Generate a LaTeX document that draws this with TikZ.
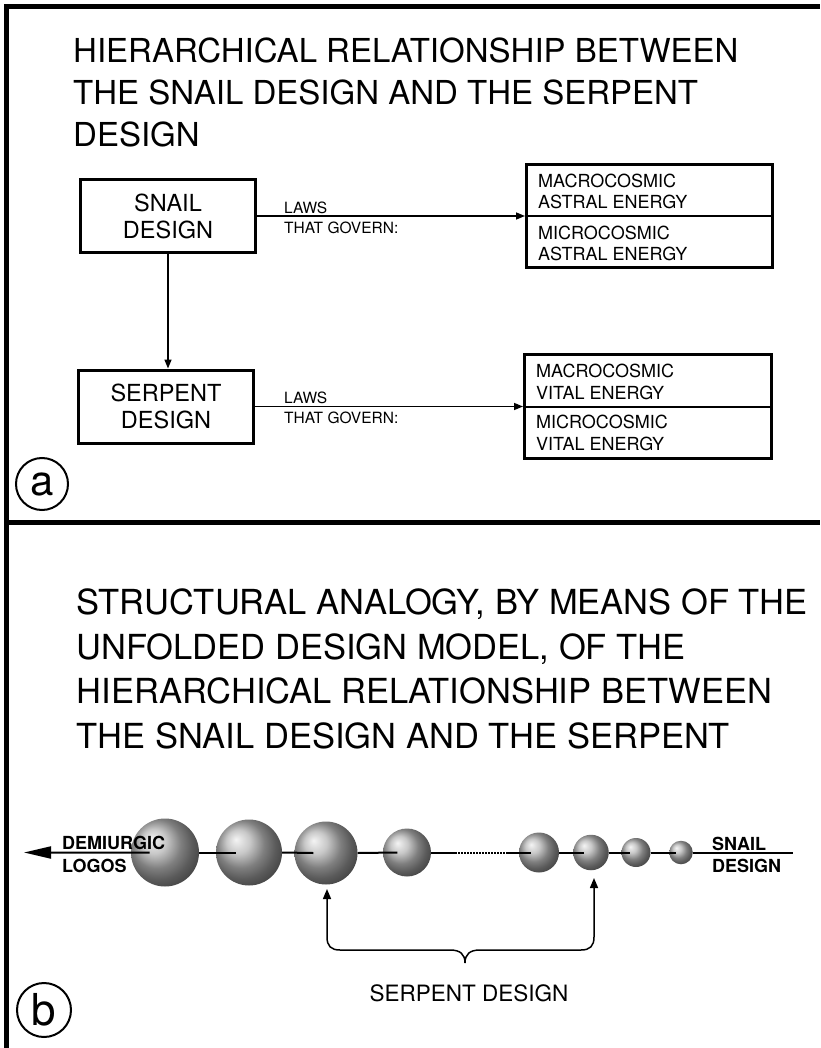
\documentclass[tikz,border=0pt]{standalone}
\usepackage{fontspec}
\setmainfont{TeX Gyre Heros}
\usetikzlibrary{arrows.meta,calc}
\begin{document}
\begin{tikzpicture}[x=1pt,y=-1pt,
  frame/.style={line width=5pt},
  dbox/.style={draw, line width=3pt, minimum width=175pt, minimum height=73pt, inner sep=0pt, align=center, font=\fontsize{23.5}{27}\selectfont},
  rbox/.style={draw, line width=3pt, inner sep=0pt},
  rtext/.style={anchor=north west, inner sep=0pt, align=left, font=\fontsize{18}{21.5}\selectfont},
  laws/.style={anchor=north west, inner sep=0pt, align=left, font=\fontsize{15.5}{20}\selectfont},
  conn/.style={line width=1.5pt, -{Triangle[length=9pt,width=7pt]}},
  sphere/.style={circle, shading=ball, ball color=gray!58, inner sep=0pt, draw=none},
  rod/.style={line width=2pt},
  title/.style={anchor=north west, inner sep=0pt, align=left},
  blab/.style={anchor=base west, inner sep=0pt, font=\bfseries\fontsize{18}{18}\selectfont},
  lbl/.style={circle, draw, line width=2pt, inner sep=0pt}
]
\fill[white] (0,0) rectangle (820,1048);
\useasboundingbox (0,0) rectangle (820,1048);

% frame
\draw[frame] (6.5,1048) -- (6.5,6.5) -- (820,6.5);
\draw[frame] (6.5,522.5) -- (820,522.5);

% ---------- panel a ----------
\node[title, font=\fontsize{33}{42}\selectfont] (t1) at (73,37.3)
  {HIERARCHICAL RELATIONSHIP BETWEEN\\THE SNAIL DESIGN AND THE SERPENT\\DESIGN};

\node[dbox] (snail) at (168,216) {SNAIL\\DESIGN};
\node[dbox] (serpent) at (166,406.5) {SERPENT\\DESIGN};

\node[rbox, minimum width=246pt, minimum height=103pt] (r1) at (649.5,216) {};
\node[rbox, minimum width=247pt, minimum height=104pt] (r2) at (648,406.5) {};
\draw[line width=2pt] (r1.west) -- (r1.east);
\draw[line width=2pt] (r2.west) -- (r2.east);

\node[rtext] (r1a) at ($(r1.west)+(13,-42.4)$) {MACROCOSMIC\\ASTRAL ENERGY};
\node[rtext] (r1b) at ($(r1.west)+(13,9.6)$) {MICROCOSMIC\\ASTRAL ENERGY};
\node[rtext] (r2a) at ($(r2.west)+(13,-42.4)$) {MACROCOSMIC\\VITAL ENERGY};
\node[rtext] (r2b) at ($(r2.west)+(13,8.6)$) {MICROCOSMIC\\VITAL ENERGY};

\draw[conn] (snail.east) -- (r1.west);
\draw[conn] (serpent.east) -- (serpent.east -| r2.west);
\draw[conn] (snail.south) -- (snail.south |- serpent.north);

\node[laws] (l1) at (284,201.5) {LAWS\\THAT GOVERN:};
\node[laws] (l2) at (284,391.5) {LAWS\\THAT GOVERN:};

\node[lbl, minimum size=52pt, font=\fontsize{42}{42}\selectfont] (la) at (42,484) {a};

% ---------- panel b ----------
\node[title, font=\fontsize{34.5}{44.5}\selectfont] (t2) at (76.5,589)
  {STRUCTURAL ANALOGY, BY MEANS OF THE\\UNFOLDED DESIGN MODEL, OF THE\\HIERARCHICAL RELATIONSHIP BETWEEN\\THE SNAIL DESIGN AND THE SERPENT};

\node[sphere, minimum size=68pt] (s1) at (165,852.5) {};
\node[sphere, minimum size=66pt] (s2) at (249,852.5) {};
\node[sphere, minimum size=63pt] (s3) at (326,853) {};
\node[sphere, minimum size=48pt] (s4) at (407,852.5) {};
\node[sphere, minimum size=40pt] (s5) at (539,852.5) {};
\node[sphere, minimum size=35.5pt] (s6) at (591,852.5) {};
\node[sphere, minimum size=29pt] (s7) at (636,852.5) {};
\node[sphere, minimum size=23.5pt] (s8) at (681,852.5) {};

\coordinate (tipL) at (24,852.5);
\coordinate (endR) at (793,852.5);
\coordinate (d1) at (455,852.5);
\coordinate (d2) at (506,852.5);

\draw[rod, -{Triangle[length=27pt,width=12pt]}] ($(s1.west)!0.55!(s1.center)$) -- (tipL);
\draw[rod] (s1.east) -- ($(s2.west)!0.6!(s2.center)$);
\draw[rod] (s2.east) -- ($(s3.west)!0.6!(s3.center)$);
\draw[rod] (s3.east) -- ($(s4.west)!0.6!(s4.center)$);
\draw[rod] (s4.east) -- (d1);
\draw[rod, dash pattern=on 1.5pt off 1.5pt] (d1) -- (d2);
\draw[rod] (d2) -- ($(s5.west)!0.6!(s5.center)$);
\draw[rod] (s5.east) -- ($(s6.west)!0.6!(s6.center)$);
\draw[rod] (s6.east) -- ($(s7.west)!0.6!(s7.center)$);
\draw[rod] (s7.east) -- ($(s8.west)!0.6!(s8.center)$);
\draw[rod] (s8.east) -- (endR);

\node[blab] (dem) at (62,849) {DEMIURGIC};
\node[blab] (logos) at (62,872) {LOGOS};
\node[blab] (sn) at (712,850) {SNAIL};
\node[blab] (sd) at (712,872) {DESIGN};

\coordinate (bl) at (327,889);
\coordinate (br) at (594,878);
\draw[line width=1.5pt, {Triangle[length=10pt,width=8pt]}-{Triangle[length=10pt,width=8pt]}]
  (bl) -- (327,937) .. controls (327,946) and (331,950) .. (340,950) -- (450,950)
  .. controls (460,950) and (465,954) .. (465,963)
  .. controls (465,954) and (470,950) .. (480,950) -- (581,950)
  .. controls (590,950) and (594,946) .. (594,937) -- (br);

\node[inner sep=0pt, font=\fontsize{22.5}{22.5}\selectfont] (sdl) at (469,993) {SERPENT DESIGN};

\node[lbl, minimum size=54pt, font=\fontsize{44}{44}\selectfont] (lb) at (44,1010) {b};
\end{tikzpicture}
\end{document}
